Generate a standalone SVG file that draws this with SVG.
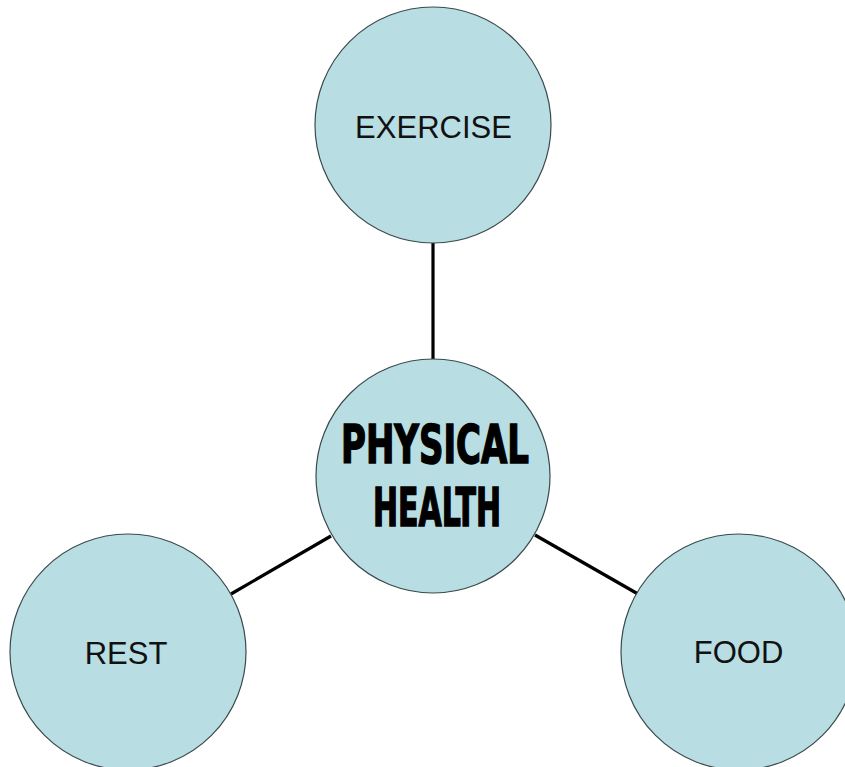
<svg xmlns="http://www.w3.org/2000/svg" width="845" height="767" viewBox="0 0 845 767">
<style>
.node{fill:#b8dee3;stroke:#3a4a4c;stroke-width:1.2}
.lbl{font-family:"Liberation Sans",Arial,sans-serif;font-size:31px;fill:#111;text-anchor:middle}
.big{font-family:"Liberation Sans Narrow","DejaVu Sans Condensed","Liberation Sans",sans-serif;font-weight:bold;font-size:53px;fill:#000;stroke:#000;stroke-width:1.5;text-anchor:middle}
.edge{stroke:#000;stroke-width:3.2;fill:none}
</style>
<rect width="845" height="767" fill="#fff"/>
<g id="connectors">
<line class="edge" x1="433" y1="243" x2="433" y2="360"/>
<line class="edge" x1="231" y1="594" x2="331" y2="536"/>
<line class="edge" x1="535" y1="535" x2="638" y2="594"/>
</g>
<g id="exercise">
<circle class="node" cx="433" cy="125" r="118"/>
<text class="lbl" x="433.5" y="138">EXERCISE</text>
</g>
<g id="physical-health">
<circle class="node" cx="433" cy="476" r="117"/>
<text class="big" x="435" y="463" textLength="188" lengthAdjust="spacingAndGlyphs">PHYSICAL</text>
<text class="big" x="437" y="526" textLength="128" lengthAdjust="spacingAndGlyphs">HEALTH</text>
</g>
<g id="rest">
<circle class="node" cx="128" cy="652" r="118"/>
<text class="lbl" x="126" y="664">REST</text>
</g>
<g id="food">
<circle class="node" cx="739" cy="652" r="118"/>
<text class="lbl" x="738.5" y="663">FOOD</text>
</g>
</svg>
